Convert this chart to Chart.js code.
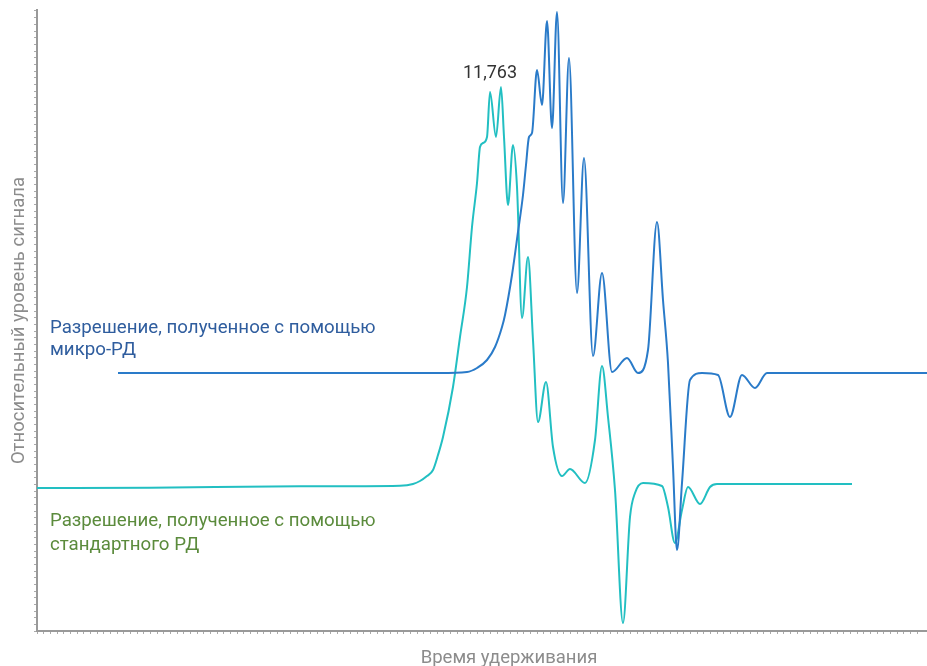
<!DOCTYPE html>
<html>
<head>
<meta charset="utf-8">
<script src="https://cdn.jsdelivr.net/npm/chart.js@4/dist/chart.umd.min.js"></script>
<style>
html,body{margin:0;padding:0;background:#fff;}
#wrap{width:927px;height:666px;position:relative;}
</style>
</head>
<body>
<div id="wrap"><canvas id="c" width="927" height="666"></canvas></div>
<script>
// Retention time (arbitrary units) and relative signal for each trace
const stdTime = [0,16.95,39.45,54.45,56.4,57.45,58.5,59.4,60.15,60.9,62.4,63.45,64.5,65.25,66.0,66.45,66.9,67.5,67.95,68.85,69.6,70.05,70.65,71.4,72.0,72.75,73.65,74.4,75.15,76.35,77.4,78.75,79.95,82.2,83.7,84.75,85.65,86.7,87.9,88.95,89.7,90.9,93.75,94.65,95.7,96.75,97.65,99.45,100.95,102.0,122.25];
const stdSignal = [21.45,21.5,21.7,21.8,22.05,22.5,23.25,24.15,26.4,29.1,36.6,44.1,51.6,60.6,67.2,72.6,73.2,74.1,80.85,74.1,81.6,74.1,63.9,72.9,66.6,46.95,56.1,43.65,31.35,37.35,27.6,23.25,24.3,22.2,28.65,39.75,32.1,21.15,1.2,17.1,20.7,22.2,21.75,18.6,13.2,18.15,21.6,19.05,21.6,22.05,22.05];

const microTime = [12.15,39.45,60.45,64.5,66.0,67.5,68.7,69.75,70.2,71.25,72.15,72.9,73.35,73.8,74.25,75.0,75.75,76.5,77.25,78.0,78.9,79.8,81.0,82.05,83.4,84.75,86.25,88.5,90.15,91.65,93.0,93.9,94.65,95.4,96.0,96.75,97.95,99.75,102.15,103.95,105.75,107.7,109.5,133.5];
const microSignal = [38.7,38.7,38.7,38.85,39.45,40.65,42.6,45.6,47.4,53.4,59.85,65.4,69.9,74.1,74.7,84.15,78.9,91.5,75.45,92.85,64.2,85.95,50.7,70.95,41.25,53.7,38.85,40.95,38.7,42.15,61.35,49.65,40.2,24.6,12.15,22.2,37.65,38.7,38.4,32.1,38.4,36.45,38.7,38.7];

const seriesNames = ["Разрешение, полученное с помощью микро-РД", "Разрешение, полученное с помощью стандартного РД"];
const peakLabel = "11,763";
const xTitle = "Время удерживания";
const yTitle = "Относительный уровень сигнала";

const microPts = microTime.map((t,i)=>({x:t,y:microSignal[i]}));
const stdPts = stdTime.map((t,i)=>({x:t,y:stdSignal[i]}));

const FONT = "Roboto, 'Noto Sans', sans-serif";

const textPlugin = {
  id:'texts',
  afterDraw(chart){
    const ctx = chart.ctx, xs = chart.scales.x, ys = chart.scales.y, a = chart.chartArea;
    ctx.save();
    // peak annotation
    ctx.fillStyle = '#333333';
    ctx.font = '18px ' + FONT;
    ctx.textAlign = 'center'; ctx.textBaseline = 'middle';
    ctx.fillText(peakLabel, xs.getPixelForValue(69.6) - 11, ys.getPixelForValue(81.6) - 14);
    // series labels
    ctx.textAlign = 'left';
    ctx.font = '18.7px ' + FONT;
    const lx = a.left + 13;
    ctx.fillStyle = '#2f5d9e';
    ctx.fillText("Разрешение, полученное с помощью", lx, ys.getPixelForValue(38.7) - 45);
    ctx.fillText("микро-РД", lx, ys.getPixelForValue(38.7) - 23);
    ctx.fillStyle = '#5b8b3c';
    ctx.fillText("Разрешение, полученное с помощью", lx, ys.getPixelForValue(21.45) + 33);
    ctx.fillText("стандартного РД", lx, ys.getPixelForValue(21.45) + 57);
    // axis titles
    ctx.fillStyle = '#8c8c8c';
    ctx.font = '18.5px ' + FONT;
    ctx.textAlign = 'center';
    ctx.fillText(xTitle, a.left + (a.right - a.left)/2 + 27, a.bottom + 27);
    ctx.translate(a.left - 18, (a.top + a.bottom)/2);
    ctx.rotate(-Math.PI/2);
    ctx.fillText(yTitle, 0, 0);
    ctx.restore();
  }
};

new Chart(document.getElementById('c'), {
  type: 'scatter',
  data: {
    datasets: [
      {label: seriesNames[0], data: microPts, showLine:true, borderColor:'#2a7bc9', borderWidth:2, pointRadius:0, tension:0.4, cubicInterpolationMode:'monotone', fill:false},
      {label: seriesNames[1], data: stdPts, showLine:true, borderColor:'#22bfc2', borderWidth:2, pointRadius:0, tension:0.4, cubicInterpolationMode:'monotone', fill:false}
    ]
  },
  options: {
    responsive:false, animation:false, clip:false,
    layout:{padding:{left:34, right:0, top:10, bottom:32}},
    plugins:{legend:{display:false}, tooltip:{enabled:false}},
    scales:{
      x:{type:'linear', min:0, max:133.5,
         ticks:{display:false, stepSize:1, autoSkip:false, maxTicksLimit:200},
         grid:{drawOnChartArea:false, drawTicks:true, tickLength:3, color:'#aaaaaa', lineWidth:1},
         border:{display:true, color:'#999999', width:2}},
      y:{type:'linear', min:0, max:93.15,
         ticks:{display:false, stepSize:1, autoSkip:false, maxTicksLimit:200},
         grid:{drawOnChartArea:false, drawTicks:true, tickLength:3, color:'#aaaaaa', lineWidth:1},
         border:{display:true, color:'#999999', width:2}}
    }
  },
  plugins:[textPlugin]
});
</script>
</body>
</html>
